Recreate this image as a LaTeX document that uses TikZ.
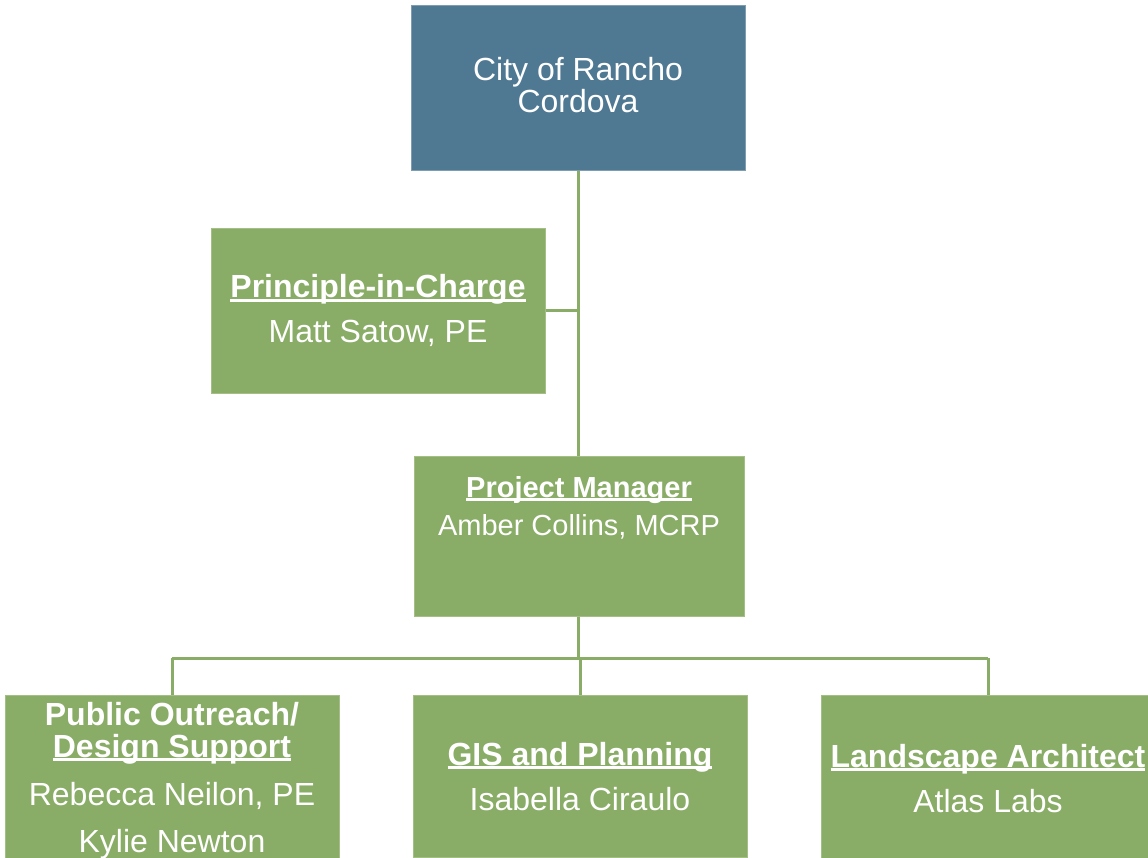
\documentclass[tikz,border=0pt]{standalone}
\usepackage{fontspec}
\setmainfont{Liberation Sans}
\definecolor{boxgreen}{HTML}{89AC66}
\definecolor{boxblue}{HTML}{4F7892}
\definecolor{edgegreen}{HTML}{A3BF86}
\definecolor{edgeblue}{HTML}{7F9DB0}
\newcommand\myul[1]{\setbox0\hbox{#1}\rlap{\rule[-3.6pt]{\wd0}{2.2pt}}\box0}
\begin{document}
\begin{tikzpicture}[x=1pt,y=-1pt,
  greenbox/.style={fill=boxgreen,draw=edgegreen,line width=0.8pt},
  bluebox/.style={fill=boxblue,draw=edgeblue,line width=0.8pt},
  conn/.style={draw=boxgreen,line width=3pt},
  txt/.style={anchor=base,inner sep=0pt,text=white,font=\fontsize{32}{32}\selectfont},
  btxt/.style={txt,font=\fontsize{32}{32}\selectfont\bfseries},
  smtxt/.style={txt,font=\fontsize{29}{29}\selectfont},
  smbtxt/.style={txt,font=\fontsize{29}{29}\selectfont\bfseries}]
\useasboundingbox (0,0) rectangle (1148,858);
\clip (0,0) rectangle (1148,858);
% boxes
\node[bluebox,minimum width=334pt,minimum height=165pt,inner sep=0pt,anchor=north west] (city) at (411,5) {};
\node[greenbox,minimum width=334pt,minimum height=165pt,inner sep=0pt,anchor=north west] (pic) at (211,228) {};
\node[greenbox,minimum width=330pt,minimum height=160pt,inner sep=0pt,anchor=north west] (pm) at (414,456) {};
\node[greenbox,minimum width=334pt,minimum height=166pt,inner sep=0pt,anchor=north west] (pub) at (5,695) {};
\node[greenbox,minimum width=334pt,minimum height=162pt,inner sep=0pt,anchor=north west] (gis) at (413,695) {};
\node[greenbox,minimum width=334pt,minimum height=166pt,inner sep=0pt,anchor=north west] (land) at (821,695) {};
% connector points
\coordinate (picj) at (578,311);
\coordinate (busc) at (578,658);
\coordinate (busl) at (172,658);
\coordinate (busm) at (580,658);
\coordinate (busr) at (988,658);
% connectors
\draw[conn] (city.south -| picj) -- (pm.north -| picj);
\draw[conn] (pic.east |- picj) -- (picj);
\draw[conn] (pm.south -| busc) -- (busc);
\draw[conn] (busl) -- (busr);
\draw[conn] (busl) -- (pub.north -| busl);
\draw[conn] (busm) -- (gis.north -| busm);
\draw[conn] (busr) -- (land.north -| busr);
% texts
\node[txt] (city1) at (578,81) {City of Rancho};
\node[txt] (city2) at (578,113) {Cordova};
\node[btxt] (pic1) at (378,298) {\myul{Principle-in-Charge}};
\node[txt] (pic2) at (378,343) {Matt Satow, PE};
\node[smbtxt] (pm1) at (579,497) {\myul{Project Manager}};
\node[smtxt] (pm2) at (579,535) {Amber Collins, MCRP};
\node[btxt] (pub1) at (172,725) {Public Outreach/};
\node[btxt] (pub2) at (172,757) {\myul{Design Support}};
\node[txt] (pub3) at (172,805) {Rebecca Neilon, PE};
\node[txt] (pub4) at (172,852) {Kylie Newton};
\node[btxt] (gis1) at (580,765) {\myul{GIS and Planning}};
\node[txt] (gis2) at (580,810) {Isabella Ciraulo};
\node[btxt] (land1) at (988,767) {\myul{Landscape Architect}};
\node[txt] (land2) at (988,812) {Atlas Labs};
\end{tikzpicture}
\end{document}
